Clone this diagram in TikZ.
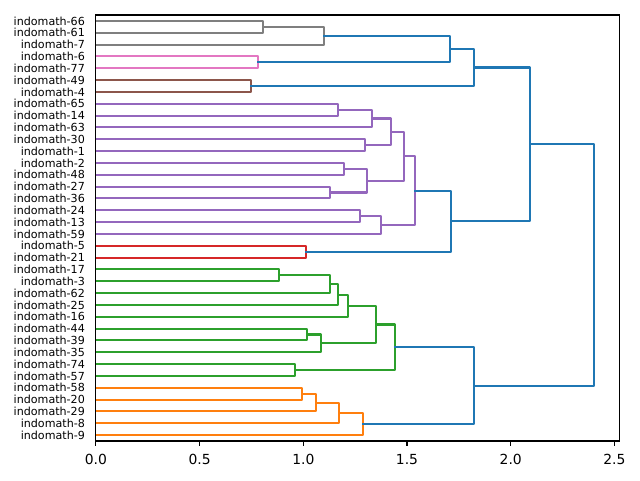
\documentclass[tikz,border=0pt]{standalone}
\usepackage{fontspec}
\setmainfont{DejaVu Sans}
\definecolor{tabblue}{HTML}{1F77B4}
\definecolor{taborange}{HTML}{FF7F0E}
\definecolor{tabgreen}{HTML}{2CA02C}
\definecolor{tabred}{HTML}{D62728}
\definecolor{tabpurple}{HTML}{9467BD}
\definecolor{tabbrown}{HTML}{8C564B}
\definecolor{tabpink}{HTML}{E377C2}
\definecolor{tabgrey}{HTML}{7F7F7F}
\tikzset{
    leaf/.style={anchor=east, inner sep=0pt, font=\fontsize{8}{9.6}\selectfont},
    ticklabel/.style={inner sep=0pt, font=\fontsize{10}{12}\selectfont},
    bluelink/.style={draw=tabblue},
    orangelink/.style={draw=taborange},
    greenlink/.style={draw=tabgreen},
    redlink/.style={draw=tabred},
    purplelink/.style={draw=tabpurple},
    brownlink/.style={draw=tabbrown},
    pinklink/.style={draw=tabpink},
    greylink/.style={draw=tabgrey}
}
\begin{document}
\begin{tikzpicture}[x=149.33pt, y=-0.852pt, line width=1.5pt, line cap=rect, line join=round]
    \useasboundingbox (-0.4624,-12.68) rectangle (2.6234,392.97);
%%   leaves   (name)   (x, y)   {text}
    \node[leaf] (l66) at (-0.0482,5) {indomath-66};
    \node[leaf] (l61) at (-0.0482,15) {indomath-61};
    \node[leaf] (l7) at (-0.0482,25) {indomath-7};
    \node[leaf] (l6) at (-0.0482,35) {indomath-6};
    \node[leaf] (l77) at (-0.0482,45) {indomath-77};
    \node[leaf] (l49) at (-0.0482,55) {indomath-49};
    \node[leaf] (l4) at (-0.0482,65) {indomath-4};
    \node[leaf] (l65) at (-0.0482,75) {indomath-65};
    \node[leaf] (l14) at (-0.0482,85) {indomath-14};
    \node[leaf] (l63) at (-0.0482,95) {indomath-63};
    \node[leaf] (l30) at (-0.0482,105) {indomath-30};
    \node[leaf] (l1) at (-0.0482,115) {indomath-1};
    \node[leaf] (l2) at (-0.0482,125) {indomath-2};
    \node[leaf] (l48) at (-0.0482,135) {indomath-48};
    \node[leaf] (l27) at (-0.0482,145) {indomath-27};
    \node[leaf] (l36) at (-0.0482,155) {indomath-36};
    \node[leaf] (l24) at (-0.0482,165) {indomath-24};
    \node[leaf] (l13) at (-0.0482,175) {indomath-13};
    \node[leaf] (l59) at (-0.0482,185) {indomath-59};
    \node[leaf] (l5) at (-0.0482,195) {indomath-5};
    \node[leaf] (l21) at (-0.0482,205) {indomath-21};
    \node[leaf] (l17) at (-0.0482,215) {indomath-17};
    \node[leaf] (l3) at (-0.0482,225) {indomath-3};
    \node[leaf] (l62) at (-0.0482,235) {indomath-62};
    \node[leaf] (l25) at (-0.0482,245) {indomath-25};
    \node[leaf] (l16) at (-0.0482,255) {indomath-16};
    \node[leaf] (l44) at (-0.0482,265) {indomath-44};
    \node[leaf] (l39) at (-0.0482,275) {indomath-39};
    \node[leaf] (l35) at (-0.0482,285) {indomath-35};
    \node[leaf] (l74) at (-0.0482,295) {indomath-74};
    \node[leaf] (l57) at (-0.0482,305) {indomath-57};
    \node[leaf] (l58) at (-0.0482,315) {indomath-58};
    \node[leaf] (l20) at (-0.0482,325) {indomath-20};
    \node[leaf] (l29) at (-0.0482,335) {indomath-29};
    \node[leaf] (l8) at (-0.0482,345) {indomath-8};
    \node[leaf] (l9) at (-0.0482,355) {indomath-9};
%%   links   (x, y) of the two children and the height
    \draw[greylink] (0,5) -- (0.806,5) -- (0.806,15) -- (0,15);
    \draw[greylink] (0.806,10) -- (1.098,10) -- (1.098,25) -- (0,25);
    \draw[pinklink] (0,35) -- (0.783,35) -- (0.783,45) -- (0,45);
    \draw[brownlink] (0,55) -- (0.746,55) -- (0.746,65) -- (0,65);
    \draw[bluelink] (1.098,17.5) -- (1.707,17.5) -- (1.707,40) -- (0.783,40);
    \draw[bluelink] (1.707,28.75) -- (1.823,28.75) -- (1.823,60) -- (0.746,60);
    \draw[purplelink] (0,75) -- (1.169,75) -- (1.169,85) -- (0,85);
    \draw[purplelink] (1.169,80) -- (1.331,80) -- (1.331,95) -- (0,95);
    \draw[purplelink] (0,105) -- (1.299,105) -- (1.299,115) -- (0,115);
    \draw[purplelink] (1.331,87.5) -- (1.423,87.5) -- (1.423,110) -- (1.299,110);
    \draw[purplelink] (0,125) -- (1.196,125) -- (1.196,135) -- (0,135);
    \draw[purplelink] (0,145) -- (1.129,145) -- (1.129,155) -- (0,155);
    \draw[purplelink] (1.196,130) -- (1.307,130) -- (1.307,150) -- (1.129,150);
    \draw[purplelink] (1.423,98.75) -- (1.486,98.75) -- (1.486,140) -- (1.307,140);
    \draw[purplelink] (0,165) -- (1.275,165) -- (1.275,175) -- (0,175);
    \draw[purplelink] (1.275,170) -- (1.375,170) -- (1.375,185) -- (0,185);
    \draw[purplelink] (1.486,119.375) -- (1.539,119.375) -- (1.539,177.5) -- (1.375,177.5);
    \draw[redlink] (0,195) -- (1.013,195) -- (1.013,205) -- (0,205);
    \draw[bluelink] (1.539,148.44) -- (1.712,148.44) -- (1.712,200) -- (1.013,200);
    \draw[bluelink] (1.823,44.375) -- (2.092,44.375) -- (2.092,174.22) -- (1.712,174.22);
    \draw[greenlink] (0,215) -- (0.881,215) -- (0.881,225) -- (0,225);
    \draw[greenlink] (0.881,220) -- (1.129,220) -- (1.129,235) -- (0,235);
    \draw[greenlink] (1.129,227.5) -- (1.169,227.5) -- (1.169,245) -- (0,245);
    \draw[greenlink] (1.169,236.25) -- (1.217,236.25) -- (1.217,255) -- (0,255);
    \draw[greenlink] (0,265) -- (1.018,265) -- (1.018,275) -- (0,275);
    \draw[greenlink] (1.018,270) -- (1.085,270) -- (1.085,285) -- (0,285);
    \draw[greenlink] (1.217,245.63) -- (1.350,245.63) -- (1.350,277.5) -- (1.085,277.5);
    \draw[greenlink] (0,295) -- (0.960,295) -- (0.960,305) -- (0,305);
    \draw[greenlink] (1.350,261.56) -- (1.442,261.56) -- (1.442,300) -- (0.960,300);
    \draw[orangelink] (0,315) -- (0.994,315) -- (0.994,325) -- (0,325);
    \draw[orangelink] (0.994,320) -- (1.061,320) -- (1.061,335) -- (0,335);
    \draw[orangelink] (1.061,327.5) -- (1.172,327.5) -- (1.172,345) -- (0,345);
    \draw[orangelink] (1.172,336.25) -- (1.288,336.25) -- (1.288,355) -- (0,355);
    \draw[bluelink] (1.442,280.78) -- (1.823,280.78) -- (1.823,345.63) -- (1.288,345.63);
    \draw[bluelink] (2.092,109.3) -- (2.402,109.3) -- (2.402,313.2) -- (1.823,313.2);
%%   frame and ticks
    \draw[line width=0.8pt, line cap=butt, line join=miter] (0,0) rectangle (2.5236,360);
    \draw[line width=0.8pt, line cap=butt] (0,360) -- (0,364.1);
    \draw[line width=0.8pt, line cap=butt] (0.5,360) -- (0.5,364.1);
    \draw[line width=0.8pt, line cap=butt] (1,360) -- (1,364.1);
    \draw[line width=0.8pt, line cap=butt] (1.5,360) -- (1.5,364.1);
    \draw[line width=0.8pt, line cap=butt] (2,360) -- (2,364.1);
    \draw[line width=0.8pt, line cap=butt] (2.5,360) -- (2.5,364.1);
    \node[ticklabel] (t0) at (0,375.8) {0.0};
    \node[ticklabel] (t05) at (0.5,375.8) {0.5};
    \node[ticklabel] (t10) at (1,375.8) {1.0};
    \node[ticklabel] (t15) at (1.5,375.8) {1.5};
    \node[ticklabel] (t20) at (2,375.8) {2.0};
    \node[ticklabel] (t25) at (2.5,375.8) {2.5};
\end{tikzpicture}
\end{document}
